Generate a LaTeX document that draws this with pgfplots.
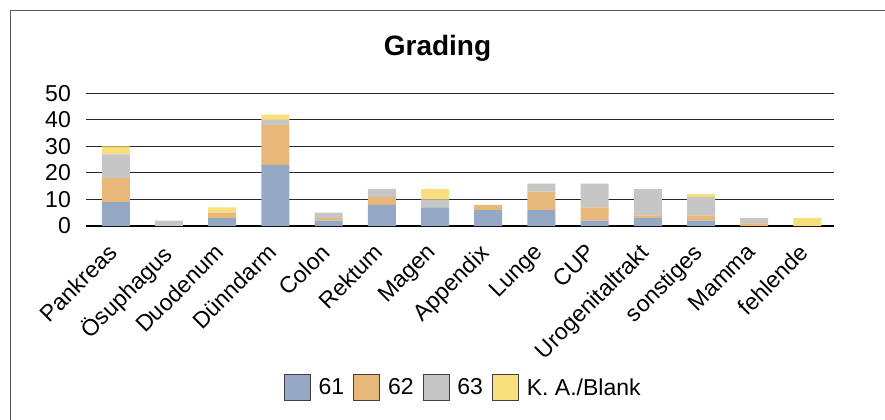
\documentclass[border=0pt]{standalone}
\usepackage{pgfplots}
\pgfplotsset{compat=1.18}
\usepackage{pgfplotstable}
\usepackage{fontspec}
\setmainfont{Liberation Sans}
\definecolor{cA}{RGB}{149,169,198}
\definecolor{cB}{RGB}{232,183,122}
\definecolor{cC}{RGB}{198,198,198}
\definecolor{cD}{RGB}{247,223,126}
\pgfplotstableread{
x a b c d
0 9 9 9 3
1 0 0 2 0
2 3 2 0 2
3 23 15 2 2
4 2 1 2 0
5 8 3 3 0
6 7 0 3 4
7 6 2 0 0
8 6 7 3 0
9 2 5 9 0
10 3 1 10 0
11 2 2 7 1
12 0 1 2 0
13 0 0 0 3
}\data
\newcommand{\fs}{\fontsize{23bp}{27bp}\selectfont}
\begin{document}
\begin{tikzpicture}
\path[use as bounding box] (0,0) rectangle (885bp,-420bp);
\draw[black!65, line width=1bp] (10bp,-430bp) -- (10bp,-10bp) -- (895bp,-10bp);
\node[font=\fontsize{28bp}{32bp}\selectfont\bfseries] at (437.5bp,-48bp) {Grading};
\begin{axis}[
  at={(86bp,-226bp)}, anchor=south west,
  scale only axis, width=748bp, height=132.7bp,
  xmin=-0.56, xmax=13.5, ymin=0, ymax=50,
  ybar stacked, bar width=28bp,
  axis line style={draw=none},
  major tick length=0pt,
  xtick={0,...,13},
  xticklabels={Pankreas,Ösuphagus,Duodenum,Dünndarm,Colon,Rektum,Magen,Appendix,Lunge,CUP,Urogenitaltrakt,sonstiges,Mamma,fehlende},
  xticklabel style={font=\fs, rotate=45, anchor=north east, inner sep=0pt, xshift=-18bp, yshift=-5bp},
  ytick={10,20,30,40,50},
  extra y ticks={0},
  extra y tick style={grid style={black, line width=2bp}},
  yticklabel style={font=\fs, anchor=east, inner sep=0pt, xshift=-15bp},
  /pgf/number format/assume math mode=true,
  ymajorgrids,
  grid style={black!85, line width=1.1bp},
  legend columns=4,
  legend style={draw=none, at={(0.503,-1.217)}, anchor=center, font=\fs,
    nodes={inner sep=0pt},
    /tikz/every even column/.append style={column sep=9bp},
    /tikz/every odd column/.append style={column sep=8bp}},
  legend image code/.code={\draw[#1, draw=black!75, line width=0.8bp] (0bp,-13bp) rectangle (26bp,13bp);},
]
\addplot[fill=cA, draw=none] table[x=x, y=a] {\data};
\addplot[fill=cB, draw=none] table[x=x, y=b] {\data};
\addplot[fill=cC, draw=none] table[x=x, y=c] {\data};
\addplot[fill=cD, draw=none] table[x=x, y=d] {\data};
\legend{61,62,63,K. A./Blank}
\end{axis}
\end{tikzpicture}
\end{document}
